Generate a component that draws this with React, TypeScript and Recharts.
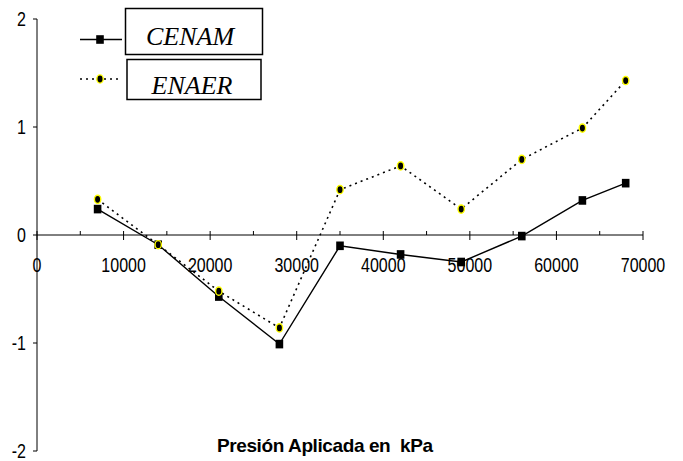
import React from "react";
import { LineChart, Line, XAxis, YAxis, ReferenceLine, ReferenceDot } from "recharts";

const PRESSURES = [7000, 14000, 21000, 28000, 35000, 42000, 49000, 56000, 63000, 68000];
const CENAM = [0.24, -0.09, -0.57, -1.01, -0.1, -0.18, -0.25, -0.01, 0.32, 0.48];
const ENAER = [0.33, -0.09, -0.52, -0.86, 0.42, 0.64, 0.24, 0.7, 0.99, 1.43];
const Y_TICKS = [-2, -1, 0, 1, 2];
const X_MAJOR = [0, 10000, 20000, 30000, 40000, 50000, 60000, 70000];
const X_MINOR = [5000, 15000, 25000, 35000, 45000, 55000, 65000];
const SERIES_NAMES = ["CENAM", "ENAER"];
const X_TITLE = "Presión Aplicada en  kPa";

const data = PRESSURES.map((p, i) => ({ p, cenam: CENAM[i], enaer: ENAER[i] }));

const TICK_FONT = "'Liberation Sans', Arial, sans-serif";

const YTick = (props: any) => {
  const { x, y, payload } = props;
  return (
    <g transform={`translate(${x},${y})`}>
      <text
        transform="scale(0.8,1)"
        textAnchor="end"
        dominantBaseline="central"
        fontFamily={TICK_FONT}
        fontSize={20}
        fill="#000"
      >
        {payload.value}
      </text>
    </g>
  );
};

const makeXTick = (major: boolean, label: number) => (props: any) => {
  const { cx, cy } = props;
  if (cx == null || cy == null) return <g />;
  return (
    <g>
      <line
        x1={cx}
        x2={cx}
        y1={cy - 4}
        y2={major ? cy + 5 : cy}
        stroke="#000"
        strokeWidth={1}
      />
      {major && (
        <g transform={`translate(${cx},${cy + 36.5})`}>
          <text
            transform="scale(0.8,1)"
            textAnchor="middle"
            fontFamily={TICK_FONT}
            fontSize={20}
            fill="#000"
          >
            {label}
          </text>
        </g>
      )}
    </g>
  );
};

const SquareDot = (props: any) => {
  const { cx, cy, index } = props;
  if (cx == null || cy == null) return <g key={`s${index}`} />;
  return <rect key={`s${index}`} x={cx - 3.8} y={cy - 4.3} width={7.6} height={8.6} fill="#000" />;
};

const CircleDot = (props: any) => {
  const { cx, cy, index } = props;
  if (cx == null || cy == null) return <g key={`c${index}`} />;
  return (
    <ellipse key={`c${index}`} cx={cx} cy={cy} rx={3.2} ry={4.1} fill="#000" stroke="#ffff00" strokeWidth={1.4} />
  );
};

export default function App() {
  return (
    <div style={{ position: "absolute", left: 0, top: 0, width: 683, height: 461, background: "#fff" }}>
      <LineChart
        width={683}
        height={461}
        data={data}
        margin={{ top: 19, right: 40, bottom: 10, left: 0 }}
      >
        <XAxis dataKey="p" type="number" domain={[0, 70000]} hide />
        <YAxis
          type="number"
          domain={[-2, 2]}
          ticks={Y_TICKS}
          width={37}
          axisLine={{ stroke: "#000", strokeWidth: 1 }}
          tickLine={{ stroke: "#000", strokeWidth: 1 }}
          tickSize={4}
          tickMargin={7}
          tick={<YTick />}
          interval={0}
        />
        <ReferenceLine y={0} stroke="#000" strokeWidth={1} ifOverflow="visible" />
        {X_MINOR.map((v) => (
          <ReferenceDot key={`mi${v}`} x={v} y={0} r={0} ifOverflow="visible" shape={makeXTick(false, v)} />
        ))}
        {X_MAJOR.map((v) => (
          <ReferenceDot key={`ma${v}`} x={v} y={0} r={0} ifOverflow="visible" shape={makeXTick(true, v)} />
        ))}
        <Line
          type="linear"
          dataKey="cenam"
          name={SERIES_NAMES[0]}
          stroke="#000"
          strokeWidth={1.4}
          dot={SquareDot}
          activeDot={false}
          isAnimationActive={false}
        />
        <Line
          type="linear"
          dataKey="enaer"
          name={SERIES_NAMES[1]}
          stroke="#000"
          strokeWidth={1.6}
          strokeDasharray="2 4"
          dot={CircleDot}
          activeDot={false}
          isAnimationActive={false}
        />
      </LineChart>
      <svg
        width={683}
        height={461}
        style={{ position: "absolute", left: 0, top: 0, pointerEvents: "none" }}
      >
        {/* legend */}
        <line x1={80} x2={122} y1={39.5} y2={39.5} stroke="#000" strokeWidth={1.4} />
        <rect x={96.2} y={35.2} width={7.6} height={8.6} fill="#000" />
        <rect x={125.5} y={8.5} width={137} height={46} fill="#fff" stroke="#000" strokeWidth={1.5} />
        <text
          x={190}
          y={45}
          textAnchor="middle"
          fontFamily="'Liberation Serif', 'Times New Roman', serif"
          fontStyle="italic"
          fontSize={26}
          fill="#000"
        >
          {SERIES_NAMES[0]}
        </text>
        <line x1={80} x2={122} y1={79} y2={79} stroke="#000" strokeWidth={1.6} strokeDasharray="2 4" />
        <ellipse cx={100} cy={79} rx={3.2} ry={4.1} fill="#000" stroke="#ffff00" strokeWidth={1.4} />
        <rect x={127} y={59.5} width={134} height={40} fill="#fff" stroke="#000" strokeWidth={1.5} />
        <text
          x={192}
          y={94}
          textAnchor="middle"
          fontFamily="'Liberation Serif', 'Times New Roman', serif"
          fontStyle="italic"
          fontSize={26}
          fill="#000"
        >
          {SERIES_NAMES[1]}
        </text>
        {/* x axis title */}
        <text
          x={217}
          y={452}
          fontFamily={TICK_FONT}
          fontWeight="bold"
          fontSize={19}
          letterSpacing={-0.4}
          fill="#000"
          style={{ whiteSpace: "pre" }}
        >
          {X_TITLE}
        </text>
      </svg>
    </div>
  );
}
